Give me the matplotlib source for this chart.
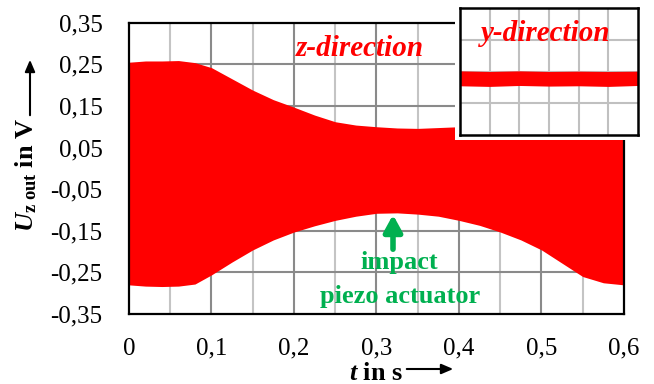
import matplotlib
matplotlib.use("Agg")
import matplotlib.pyplot as plt
from matplotlib.patches import Rectangle

plt.rcParams['font.family'] = 'Liberation Serif'
plt.rcParams['mathtext.fontset'] = 'custom'
plt.rcParams['mathtext.rm'] = 'Liberation Serif:bold'
plt.rcParams['mathtext.it'] = 'Liberation Serif:italic:bold'
plt.rcParams['mathtext.bf'] = 'Liberation Serif:bold'

# envelope of the z-direction signal
t = [0, 0.02, 0.04, 0.06, 0.08, 0.1, 0.125, 0.15, 0.175, 0.2, 0.225, 0.25, 0.275,
     0.3, 0.325, 0.35, 0.375, 0.4, 0.425, 0.45, 0.475, 0.5, 0.525, 0.55, 0.575, 0.6]
upper = [0.255, 0.258, 0.258, 0.259, 0.254, 0.242, 0.215, 0.188, 0.165, 0.147, 0.128, 0.112, 0.104,
         0.100, 0.097, 0.096, 0.098, 0.100, 0.110, 0.130, 0.155, 0.180, 0.205, 0.235, 0.250, 0.255]
lower = [-0.280, -0.283, -0.284, -0.283, -0.278, -0.256, -0.225, -0.196, -0.172, -0.153, -0.138, -0.125, -0.115,
         -0.108, -0.107, -0.110, -0.115, -0.125, -0.137, -0.153, -0.172, -0.196, -0.228, -0.260, -0.275, -0.280]

# y-direction band (inset)
t_y = [0, 0.1, 0.2, 0.3, 0.4, 0.5, 0.6]
y_top = [0.002, 0.000, 0.002, 0.000, 0.001, 0.000, 0.001]
y_bot = [-0.045, -0.047, -0.044, -0.046, -0.045, -0.047, -0.044]

yticks = [0.35, 0.25, 0.15, 0.05, -0.05, -0.15, -0.25, -0.35]
ylabels = ['0,35', '0,25', '0,15', '0,05', '-0,05', '-0,15', '-0,25', '-0,35']
xticks = [0, 0.1, 0.2, 0.3, 0.4, 0.5, 0.6]
xlabels = ['0', '0,1', '0,2', '0,3', '0,4', '0,5', '0,6']

red = '#ff0000'
green = '#00b050'

fig = plt.figure(figsize=(6.54, 3.84), dpi=100)
ax = fig.add_axes([0.1972, 0.1823, 0.7569, 0.7586])
ax.set_xlim(0, 0.6)
ax.set_ylim(-0.35, 0.35)

for x in [0.05, 0.15, 0.25, 0.35, 0.45, 0.55]:
    ax.axvline(x, color='#c4c4c4', lw=1.5, zorder=0)
for x in [0.1, 0.2, 0.3, 0.4, 0.5]:
    ax.axvline(x, color='#8a8a8a', lw=1.5, zorder=0)
for y in yticks[1:-1]:
    ax.axhline(y, color='#8a8a8a', lw=1.5, zorder=0)

ax.fill_between(t, lower, upper, color=red, lw=0, zorder=2)

ax.set_yticks(yticks)
ax.set_yticklabels(ylabels)
ax.set_xticks(xticks)
ax.set_xticklabels(xlabels)
ax.tick_params(length=0, labelsize=18)
ax.tick_params(axis='y', pad=19)
ax.tick_params(axis='x', pad=17)
for s in ax.spines.values():
    s.set_linewidth(1.6)
    s.set_zorder(3)

ax.text(0.467, 0.913, 'z-direction', transform=ax.transAxes, color=red,
        fontsize=21, fontweight='bold', style='italic', ha='center', va='center')

ax.text(0.546, 0.176, 'impact', transform=ax.transAxes, color=green,
        fontsize=19, fontweight='bold', ha='center', va='center')
ax.text(0.548, 0.06, 'piezo actuator', transform=ax.transAxes, color=green,
        fontsize=19, fontweight='bold', ha='center', va='center')
ax.annotate('', xy=(393, 384 - 212), xytext=(393, 384 - 252), xycoords='figure pixels',
            textcoords='figure pixels',
            arrowprops=dict(arrowstyle='-|>,head_width=0.55,head_length=1.0', color=green, lw=4))

# axis labels with arrows
fig.text(26, 384 - 175, r'$U_{\mathrm{z\ out}}$ in V', transform=None, rotation=90,
         fontsize=19, fontweight='bold', ha='center', va='center')
ax.annotate('', xy=(30, 384 - 57), xytext=(30, 384 - 118), xycoords='figure pixels',
            textcoords='figure pixels',
            arrowprops=dict(arrowstyle='-|>,head_width=0.3,head_length=0.7', color='black', lw=1.5))
fig.text(376, 384 - 373, r'$t$ in s', transform=None,
         fontsize=19, fontweight='bold', ha='center', va='center')
ax.annotate('', xy=(456, 384 - 369), xytext=(404, 384 - 369), xycoords='figure pixels',
            textcoords='figure pixels',
            arrowprops=dict(arrowstyle='-|>,head_width=0.3,head_length=0.7', color='black', lw=1.5))

# white backing behind the inset
fig.patches.append(Rectangle((455 / 654, 1 - 140 / 384), 190 / 654, 140 / 384,
                             transform=fig.transFigure, facecolor='white', edgecolor='none',
                             zorder=5))

ins = fig.add_axes([460 / 654, 1 - 135 / 384, 178 / 654, 127 / 384], zorder=6)
ins.set_xlim(0, 0.6)
ins.set_ylim(-0.2, 0.2)
for x in [0.1, 0.2, 0.3, 0.4, 0.5]:
    ins.axvline(x, color='#c0c0c0', lw=1.5, zorder=0)
for y in [-0.1, 0, 0.1]:
    ins.axhline(y, color='#c0c0c0', lw=1.5, zorder=0)
ins.fill_between(t_y, y_bot, y_top, color=red, lw=0, zorder=2)
ins.set_xticks([])
ins.set_yticks([])
for s in ins.spines.values():
    s.set_linewidth(1.8)
ins.text(0.483, 0.80, 'y-direction', transform=ins.transAxes, color=red,
         fontsize=21, fontweight='bold', style='italic', ha='center', va='center')

fig.savefig('out.png', dpi=100)
